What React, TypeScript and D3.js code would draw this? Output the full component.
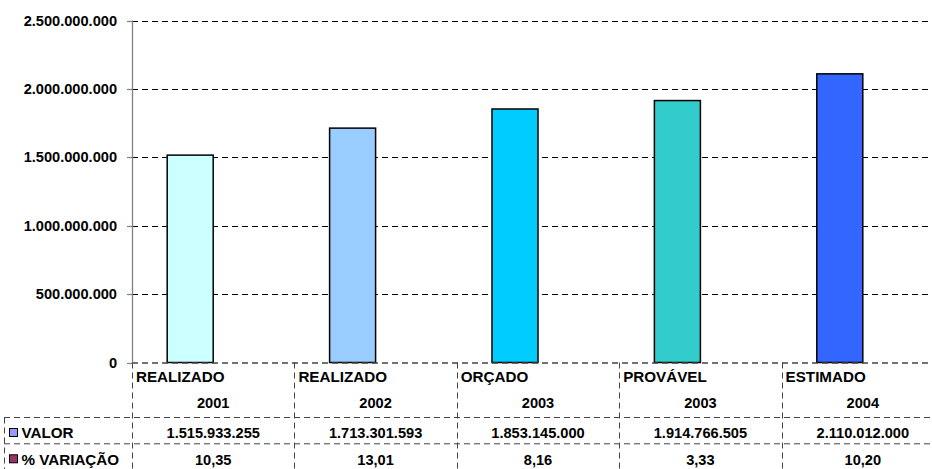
import React from "react";
import * as d3 from "d3";

const categoriesTop = ["REALIZADO", "REALIZADO", "ORÇADO", "PROVÁVEL", "ESTIMADO"];
const categoriesYear = ["2001", "2002", "2003", "2003", "2004"];
const valor = [1515933255, 1713301593, 1853145000, 1914766505, 2110012000];
const variacao = [10.35, 13.01, 8.16, 3.33, 10.2];
const valorLabels = ["1.515.933.255", "1.713.301.593", "1.853.145.000", "1.914.766.505", "2.110.012.000"];
const variacaoLabels = ["10,35", "13,01", "8,16", "3,33", "10,20"];
const barColors = ["#CCFFFF", "#99CCFF", "#00CCFF", "#33CCCC", "#3366FF"];
const yTicks = [0, 500000000, 1000000000, 1500000000, 2000000000, 2500000000];
const seriesNames = ["VALOR", "% VARIAÇÃO"];
const seriesColors = ["#9999FF", "#993366"];

const W = 932;
const H = 469;
const left = 132;
const catW = 162.4;
const top = 20.5;
const bottom = 362.5;

const fmt = (v: number) => (v === 0 ? "0" : d3.format(",")(v).replace(/,/g, "."));

export default function App() {
  const ids = categoriesTop.map((_, i) => String(i));
  const x = d3.scaleBand<string>().domain(ids).range([left, left + catW * ids.length]);
  const inner = d3.scaleBand<string>().domain(["v", "p"]).range([0, x.bandwidth()]).paddingInner(0).paddingOuter(0.765);
  const y = d3.scaleLinear().domain([0, 2500000000]).range([bottom, top]);

  const font = "'Liberation Sans', Arial, sans-serif";
  const fs = 14.6;
  const fsL = 15.2;
  const rowTop1 = 417.5;
  const rowTop2 = 443.8;
  const dash = "6,4";

  return (
    <svg width={W} height={H} style={{ position: "absolute", left: 0, top: 0, background: "#fff" }} fontFamily={font}>
      <rect x={0} y={0} width={W} height={H} fill="#fff" />
      {yTicks.filter((t) => t > 0).map((t) => (
        <line key={t} x1={left} x2={W} y1={Math.round(y(t)) + 0.5} y2={Math.round(y(t)) + 0.5} stroke="#000" strokeWidth={1} strokeDasharray={dash} />
      ))}
      <line x1={left + 0.5} x2={left + 0.5} y1={top} y2={bottom} stroke="#808080" strokeWidth={1.3} />
      {yTicks.map((t) => (
        <g key={"t" + t}>
          <line x1={left - 5} x2={left} y1={Math.round(y(t)) + 0.5} y2={Math.round(y(t)) + 0.5} stroke="#808080" strokeWidth={1.2} />
          <text x={117} y={y(t) + 5} textAnchor="end" fontSize={fs} fontWeight="bold" fill="#000">
            {fmt(t)}
          </text>
        </g>
      ))}
      {valor.map((v, i) => (
        <rect key={"v" + i} x={x(ids[i])! + inner("v")!} y={y(v)} width={inner.bandwidth()} height={y(0) - y(v)} fill={barColors[i]} stroke="#000" strokeWidth={1.5} />
      ))}
      {variacao.map((v, i) => (
        <rect key={"p" + i} x={x(ids[i])! + inner("p")!} y={y(v)} width={inner.bandwidth()} height={Math.max(0, y(0) - y(v))} fill={seriesColors[1]} />
      ))}
      <line x1={left} x2={W} y1={bottom + 0.5} y2={bottom + 0.5} stroke="#444" strokeWidth={1.3} strokeDasharray={dash} />
      {ids.map((id) => (
        <line key={"vl" + id} x1={Math.round(x(id)!) + 0.5} x2={Math.round(x(id)!) + 0.5} y1={bottom} y2={H} stroke="#444" strokeWidth={1} strokeDasharray={dash} />
      ))}
      <line x1={4.5} x2={4.5} y1={rowTop1} y2={H} stroke="#444" strokeWidth={1} strokeDasharray={dash} />
      <line x1={4} x2={W} y1={rowTop1} y2={rowTop1} stroke="#444" strokeWidth={1} strokeDasharray={dash} />
      <line x1={4} x2={W} y1={rowTop2} y2={rowTop2} stroke="#444" strokeWidth={1} strokeDasharray={dash} />
      {ids.map((id, i) => (
        <g key={"c" + id}>
          <text x={x(id)! + 4} y={381.5} fontSize={fsL} fontWeight="bold" fill="#000">
            {categoriesTop[i]}
          </text>
          <text x={x(id)! + x.bandwidth() / 2} y={408} textAnchor="middle" fontSize={fs} fontWeight="bold" fill="#000">
            {categoriesYear[i]}
          </text>
          <text x={x(id)! + x.bandwidth() / 2} y={438} textAnchor="middle" fontSize={fs} fontWeight="bold" fill="#000">
            {valorLabels[i]}
          </text>
          <text x={x(id)! + x.bandwidth() / 2} y={464.5} textAnchor="middle" fontSize={fs} fontWeight="bold" fill="#000">
            {variacaoLabels[i]}
          </text>
        </g>
      ))}
      {seriesNames.map((n, i) => (
        <g key={n}>
          <rect x={9.5} y={428.5 + i * 26.3} width={8} height={8} fill={seriesColors[i]} stroke="#000" strokeWidth={1} />
          <text x={21.5} y={438 + i * 26.5} fontSize={fsL} fontWeight="bold" fill="#000">
            {n}
          </text>
        </g>
      ))}
    </svg>
  );
}
